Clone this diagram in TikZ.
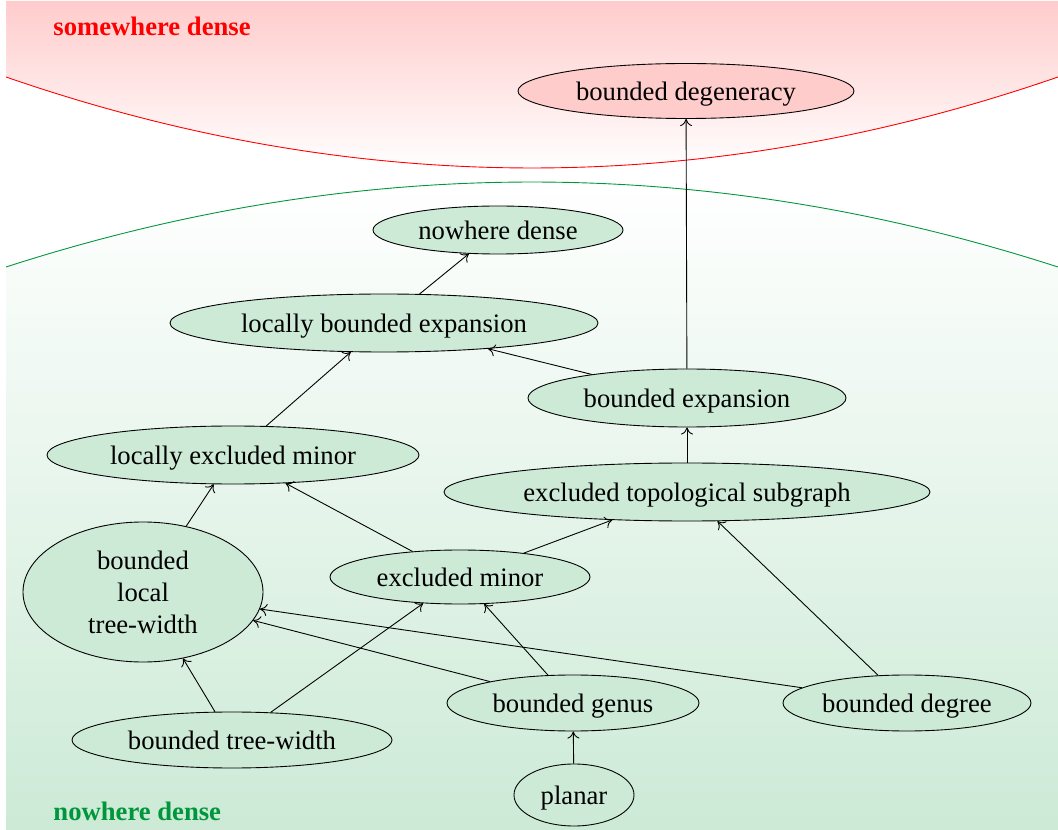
\documentclass[tikz,border=0pt]{standalone}
\usepackage{fontspec}
\setmainfont{Liberation Serif}
\usetikzlibrary{shapes.geometric,arrows.meta}
\definecolor{ndgreen}{RGB}{0,150,60}
\definecolor{ndfill}{RGB}{204,234,214}
\definecolor{sdfill}{RGB}{255,204,204}
\begin{document}
\begin{tikzpicture}[x=0.45pt,y=-0.45pt,
  font=\fontsize{12}{14.4}\selectfont,
  >={To[length=3.2pt,width=5.4pt]},
  cls/.style={ellipse,draw=black,fill=ndfill,inner sep=0pt,align=center,text depth=0pt},
  sdcls/.style={cls,fill=sdfill},
  imp/.style={->,black},
  regionlabel/.style={anchor=west,inner sep=0pt,font=\fontsize{12}{14.4}\selectfont\bfseries}]
\useasboundingbox (0,0) rectangle (1058,830);
% somewhere dense region
\begin{scope}
  \clip (6,1) -- (1058,1) -- (1058,77) .. controls (707.3,198.3) and (356.7,198.3) .. (6,77) -- cycle;
  \shade[top color=sdfill,bottom color=white] (6,1) rectangle (1058,170);
\end{scope}
\draw[red] (6,77) .. controls (356.7,198.3) and (707.3,198.3) .. (1058,77);
% nowhere dense region
\begin{scope}
  \clip (6,267) .. controls (356.7,153.7) and (707.3,153.7) .. (1058,267) -- (1058,830) -- (6,830) -- cycle;
  \shade[top color=white,bottom color=ndfill] (6,180) rectangle (1058,830);
\end{scope}
\draw[ndgreen] (6,267) .. controls (356.7,153.7) and (707.3,153.7) .. (1058,267);
% labels
\node[regionlabel,text=red] (sdl) at (53,26) {somewhere dense};
\node[regionlabel,text=ndgreen] (ndl) at (53,811) {nowhere dense};
% classes
\node[sdcls,minimum width=151.2pt,minimum height=24.75pt] (deg) at (686,91) {bounded degeneracy};
\node[cls,minimum width=112.5pt,minimum height=21.6pt] (nd) at (498,230) {nowhere dense};
\node[cls,minimum width=192.6pt,minimum height=26.1pt] (lbe) at (384,323) {locally bounded expansion};
\node[cls,minimum width=143.1pt,minimum height=26.1pt] (be) at (687,398) {bounded expansion};
\node[cls,minimum width=167.4pt,minimum height=26.1pt] (lem) at (233,455) {locally excluded minor};
\node[cls,minimum width=218.7pt,minimum height=26.1pt] (ets) at (687,492) {excluded topological subgraph};
\node[cls,minimum width=108pt,minimum height=63pt] (bltw) at (143,592) {bounded\\local\\tree-width};
\node[cls,minimum width=117pt,minimum height=24.3pt] (em) at (460,577) {excluded minor};
\node[cls,minimum width=113.4pt,minimum height=25.2pt] (bg) at (573,703) {bounded genus};
\node[cls,minimum width=111.6pt,minimum height=25.2pt] (bd) at (907,703) {bounded degree};
\node[cls,minimum width=144pt,minimum height=25.2pt] (btw) at (232,740) {bounded tree-width};
\node[cls,minimum width=54pt,minimum height=27.9pt] (pl) at (574,795) {planar};
% implications
\draw[imp] (be) -- (deg);
\draw[imp] (lbe) -- (nd);
\draw[imp] (be) -- (lbe);
\draw[imp] (ets) -- (be);
\draw[imp] (lem) -- (lbe);
\draw[imp] (bltw) -- (lem);
\draw[imp] (em) -- (lem);
\draw[imp] (em) -- (ets);
\draw[imp] (bg) -- (em);
\draw[imp] (bg) -- (bltw);
\draw[imp] (bd) -- (bltw);
\draw[imp] (bd) -- (ets);
\draw[imp] (btw) -- (bltw);
\draw[imp] (btw) -- (em);
\draw[imp] (pl) -- (bg);
\end{tikzpicture}
\end{document}
